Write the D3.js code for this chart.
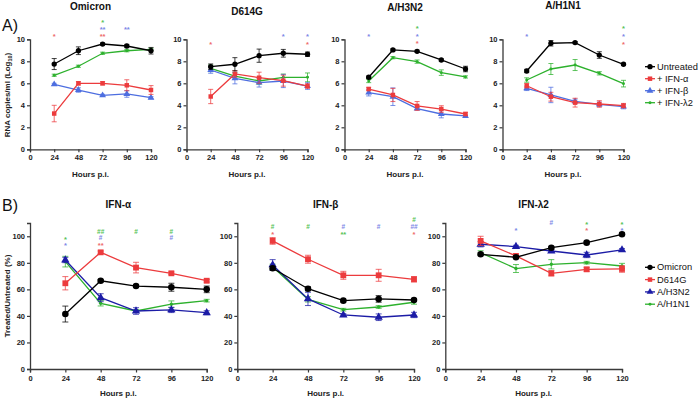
<!DOCTYPE html>
<html>
<head>
<meta charset="utf-8">
<script src="https://cdn.jsdelivr.net/npm/d3@7"></script>
<style>
body { margin: 0; background: #fff; }
svg { font-family: Arial, "Liberation Sans", sans-serif; }
</style>
</head>
<body>
<div id="chart-area"></div>
<script>
const hours = [24, 48, 72, 96, 120];
const hourTicks = [0, 24, 48, 72, 96, 120];
const rnaTicks = [0, 2, 4, 6, 8, 10];
const ratioTicks = [0, 20, 40, 60, 80, 100];

const treatments = ["Untreated", "+ IFN-\u03b1", "+ IFN-\u03b2", "+ IFN-\u03bb2"];
const viruses = ["Omicron", "D614G", "A/H3N2", "A/H1N1"];
const interferons = ["IFN-\u03b1", "IFN-\u03b2", "IFN-\u03bb2"];

// RNA copies/ml (log10), one row per treatment
const omicronRna = [
    [7.75, 8.96, 9.57, 9.39, 8.96],
    [3.25, 6.0, 6.0, 5.82, 5.39],
    [5.9, 5.39, 4.9, 5.03, 4.69],
    [6.73, 7.55, 8.73, 8.96, 9.09]
];
const omicronRnaErr = [
    [0.5, 0.35, 0.1, 0.15, 0.3],
    [0.75, 0.15, 0.15, 0.5, 0.4],
    [0.1, 0.2, 0.1, 0.3, 0.1],
    [0.1, 0.1, 0.1, 0.1, 0.1]
];
const d614gRna = [
    [7.51, 7.73, 8.51, 8.73, 8.64],
    [4.8, 6.85, 6.51, 6.24, 5.75],
    [7.21, 6.45, 6.06, 6.21, 5.75],
    [7.36, 6.66, 6.21, 6.54, 6.54]
];
const d614gRnaErr = [
    [0.25, 0.6, 0.6, 0.35, 0.2],
    [0.65, 0.3, 0.5, 0.5, 0.2],
    [0.3, 0.5, 0.4, 0.6, 0.3],
    [0.3, 0.3, 0.3, 0.3, 0.4]
];
const h3n2Rna = [
    [6.55, 9.03, 8.91, 8.12, 7.3],
    [5.48, 4.94, 3.94, 3.66, 3.21],
    [5.15, 4.78, 3.7, 3.21, 3.03],
    [6.21, 8.33, 7.97, 6.97, 6.58]
];
const h3n2RnaErr = [
    [0.1, 0.1, 0.1, 0.1, 0.25],
    [0.15, 0.6, 0.4, 0.3, 0.15],
    [0.3, 0.8, 0.1, 0.35, 0.1],
    [0.15, 0.1, 0.15, 0.25, 0.1]
];
const h1n1Rna = [
    [7.12, 9.64, 9.7, 8.57, 7.73],
    [5.78, 4.78, 4.24, 4.12, 3.97],
    [5.54, 4.94, 4.36, 4.09, 3.88],
    [6.3, 7.3, 7.66, 6.91, 5.97]
];
const h1n1RnaErr = [
    [0.15, 0.25, 0.1, 0.3, 0.1],
    [0.2, 0.4, 0.4, 0.3, 0.2],
    [0.2, 0.7, 0.2, 0.2, 0.2],
    [0.2, 0.5, 0.5, 0.15, 0.3]
];

// Treated/Untreated (%), one row per virus
const alphaRatio = [
    [41.4, 66.5, 62.5, 61.6, 60.0],
    [64.6, 87.9, 76.4, 72.1, 66.5],
    [82.1, 53.7, 43.7, 44.5, 42.4],
    [80.9, 49.5, 43.7, 48.8, 51.5]
];
const alphaRatioErr = [
    [6, 1, 1, 3, 2.5],
    [5, 1, 4, 1, 1],
    [2, 3, 2.5, 2, 1.5],
    [4, 2, 1, 2.5, 1]
];
const betaRatio = [
    [75.9, 60.5, 51.5, 52.8, 52.0],
    [96.5, 82.7, 70.6, 70.6, 67.6],
    [78.4, 52.8, 40.7, 39.0, 40.7],
    [77.0, 52.5, 44.7, 46.7, 50.3]
];
const betaRatioErr = [
    [1.5, 1.5, 1, 2.5, 1],
    [2.5, 3, 3, 4.5, 2],
    [4, 5, 1, 2.5, 2],
    [2, 2, 1, 1, 1.5]
];
const lambdaRatio = [
    [86.4, 84.2, 91.4, 95.2, 101.5],
    [96.5, 85.2, 72.1, 75.1, 75.4],
    [94.0, 92.2, 88.9, 85.9, 89.7],
    [87.6, 75.7, 78.9, 80.1, 77.6]
];
const lambdaRatioErr = [
    [1, 1, 1, 1, 1],
    [3.5, 1, 2, 1.5, 2.5],
    [2, 1, 1, 2, 1],
    [1.5, 3, 3.5, 1, 2]
];

// significance marks: [hour, row, text, series index]
const omicronMarks = [[24, 2, "*", 1], [72, 0, "*", 3], [72, 1, "**", 2], [72, 2, "**", 1], [96, 1, "**", 2]];
const d614gMarks = [[24, 2, "*", 1], [96, 1, "*", 2], [120, 1, "*", 2], [120, 2, "*", 1]];
const h3n2Marks = [[24, 1, "*", 2], [72, 0, "*", 3], [72, 1, "*", 2], [72, 2, "*", 1]];
const h1n1Marks = [[24, 1, "*", 2], [120, 0, "*", 3], [120, 1, "*", 2], [120, 2, "*", 1]];
const alphaMarks = [[24, 1, "*", 3], [24, 2, "*", 2], [48, 0, "##", 3], [48, 1, "#", 2], [48, 2, "**", 1],
    [72, 0, "#", 3], [96, 0, "#", 3], [96, 1, "#", 2]];
const betaMarks = [[24, 1, "#", 3], [24, 2, "*", 1], [48, 1, "#", 3], [72, 1, "#", 2], [72, 2, "**", 3],
    [96, 1, "#", 2], [120, 0, "#", 3], [120, 1, "##", 2], [120, 2, "*", 1]];
const lambdaMarks = [[48, 1, "*", 2], [72, 0, "#", 2], [96, 0, "*", 3], [96, 1, "*", 1], [120, 0, "*", 3], [120, 1, "*", 2]];

const topColors = ["#000000", "#ec3b3d", "#4d6ee0", "#2db12d"];
const bottomColors = ["#000000", "#ec3b3d", "#1c1ca6", "#2db12d"];
const markColors = ["#000000", "#ee6a6a", "#7b86e6", "#55c255"];
const symbolTypes = [d3.symbolCircle, d3.symbolSquare, d3.symbolTriangle, d3.symbolCircle];

const svg = d3.select('#chart-area')
    .append('svg')
    .attr('width', 700)
    .attr('height', 398);

function drawPanel(p) {
    const g = svg.append('g');

    const x = d3.scaleLinear()
        .domain([0, 120])
        .range([p.x0, p.x0 + p.w]);

    const y = d3.scaleLinear()
        .domain([0, p.yMax])
        .range([p.yBottom, p.yTop]);

    const xAxis = d3.axisBottom(x)
        .tickValues(hourTicks)
        .tickSizeOuter(0)
        .tickSize(p.tick)
        .tickPadding(p.pad);
    const gx = g.append('g')
        .attr('transform', `translate(0, ${p.yBottom})`)
        .call(xAxis);

    const yAxis = d3.axisLeft(y)
        .tickValues(p.yTicks)
        .tickSizeOuter(0)
        .tickSize(3)
        .tickPadding(2);
    const gy = g.append('g')
        .attr('transform', `translate(${p.x0}, 0)`)
        .call(yAxis);

    [gx, gy].forEach(a => {
        a.select('.domain').attr('stroke', '#3a3a3a').attr('stroke-width', 1.3);
        a.selectAll('.tick line').attr('stroke', '#3a3a3a').attr('stroke-width', 1.2);
        a.selectAll('.tick text')
            .attr('font-size', 7.5)
            .attr('font-weight', 'bold')
            .attr('font-family', 'Arial, "Liberation Sans", sans-serif')
            .attr('fill', '#222');
    });

    // series, drawn last-first so the first sits on top
    for (let s = p.means.length - 1; s >= 0; s--) {
        const color = p.colors[s];
        const pts = hours.map((h, i) => ({ h: h, v: p.means[s][i], e: p.errs[s][i] }));

        g.append('path')
            .datum(pts)
            .attr('fill', 'none')
            .attr('stroke', color)
            .attr('stroke-width', 1.3)
            .attr('d', d3.line().x(d => x(d.h)).y(d => y(d.v)));

        const eb = g.append('g')
            .attr('stroke', color)
            .attr('stroke-width', 1)
            .attr('stroke-opacity', 0.75);
        pts.forEach(d => {
            const cx = x(d.h);
            const y1 = y(d.v + d.e), y2 = y(d.v - d.e);
            eb.append('line').attr('x1', cx).attr('x2', cx).attr('y1', y1).attr('y2', y2);
            eb.append('line').attr('x1', cx - p.cap).attr('x2', cx + p.cap).attr('y1', y1).attr('y2', y1);
            eb.append('line').attr('x1', cx - p.cap).attr('x2', cx + p.cap).attr('y1', y2).attr('y2', y2);
        });

        g.selectAll(null)
            .data(pts)
            .enter()
            .append('path')
            .attr('transform', d => `translate(${x(d.h)}, ${y(d.v)})`)
            .attr('d', d3.symbol().type(symbolTypes[s]).size(p.sizes[s]))
            .attr('fill', color);
    }

    // significance marks
    g.selectAll(null)
        .data(p.marks)
        .enter()
        .append('text')
        .attr('x', d => x(d[0]))
        .attr('y', d => p.rows[d[1]] + (d[2][0] === '*' ? 2.2 : 0))
        .attr('text-anchor', 'middle')
        .attr('dominant-baseline', 'central')
        .attr('font-size', d => d[2][0] === '*' ? 7.5 : 6.5)
        .attr('font-weight', 'bold')
        .attr('fill', d => markColors[d[3]])
        .text(d => d[2]);

    g.append('text')
        .attr('x', p.x0 + p.w / 2)
        .attr('y', p.titleY)
        .attr('text-anchor', 'middle')
        .attr('font-size', 10)
        .attr('font-weight', 'bold')
        .attr('fill', '#111')
        .text(p.title);

    g.append('text')
        .attr('x', p.x0 + p.w / 2)
        .attr('y', p.xLabelY)
        .attr('text-anchor', 'middle')
        .attr('font-size', 8)
        .attr('font-weight', 'bold')
        .attr('fill', '#222')
        .text("Hours p.i.");
}

// row A
const topData = [omicronRna, d614gRna, h3n2Rna, h1n1Rna];
const topErr = [omicronRnaErr, d614gRnaErr, h3n2RnaErr, h1n1RnaErr];
const topMarks = [omicronMarks, d614gMarks, h3n2Marks, h1n1Marks];
const topX0 = [30, 186.5, 344.5, 502.5];
const topTitleY = [9.5, 15, 10.5, 9];
const topRows = [[20, 27, 34.3], [26.3, 34.5, 42.5], [26, 33.8, 41.7], [26.7, 34.3, 42.3]];

viruses.forEach((v, i) => {
    drawPanel({
        x0: topX0[i], w: 121, yTop: 39.3, yBottom: 149.3, yMax: 10, yTicks: rnaTicks,
        tick: 3, pad: 2.5, cap: 2.5,
        means: topData[i], errs: topErr[i], colors: topColors, sizes: [22, 20, 20, 7],
        marks: topMarks[i], rows: topRows[i],
        title: v, titleY: topTitleY[i], xLabelY: 177
    });
});

// row B
const bottomData = [alphaRatio, betaRatio, lambdaRatio];
const bottomErr = [alphaRatioErr, betaRatioErr, lambdaRatioErr];
const bottomMarks = [alphaMarks, betaMarks, lambdaMarks];
const bottomX0 = [30, 237.3, 445.3];
const bottomRows = [[231.7, 237.5, 243.3], [219.3, 226, 232.7], [222.7, 228.3]];

interferons.forEach((f, i) => {
    drawPanel({
        x0: bottomX0[i], w: 176.7, yTop: 223, yBottom: 369, yMax: 110, yTicks: ratioTicks,
        tick: 3.5, pad: 3, cap: 3,
        means: bottomData[i], errs: bottomErr[i], colors: bottomColors, sizes: [34, 34, 30, 9],
        marks: bottomMarks[i], rows: bottomRows[i],
        title: f, titleY: 208, xLabelY: 395.5
    });
});

// axis titles and panel letters
const yl1 = svg.append('text')
    .attr('transform', 'translate(9.5, 95) rotate(-90)')
    .attr('text-anchor', 'middle')
    .attr('font-size', 8)
    .attr('font-weight', 'bold')
    .attr('fill', '#222');
yl1.append('tspan').text("RNA copies/ml (Log");
yl1.append('tspan').attr('font-size', 5.5).attr('dy', 2).text("10");
yl1.append('tspan').attr('dy', -2).text(")");

svg.append('text')
    .attr('transform', 'translate(10, 296) rotate(-90)')
    .attr('text-anchor', 'middle')
    .attr('font-size', 8)
    .attr('font-weight', 'bold')
    .attr('fill', '#222')
    .text("Treated/Untreated (%)");

svg.append('text').attr('x', 2).attr('y', 31).attr('font-size', 16).attr('fill', '#111').text("A)");
svg.append('text').attr('x', 2).attr('y', 211).attr('font-size', 16).attr('fill', '#111').text("B)");

// legends
function drawLegend(labels, colors, sizes, lx, ly, step) {
    labels.forEach((t, i) => {
        const yy = ly + i * step;
        svg.append('line')
            .attr('x1', lx - 5).attr('x2', lx + 5)
            .attr('y1', yy).attr('y2', yy)
            .attr('stroke', colors[i]).attr('stroke-width', 1.3);
        svg.append('path')
            .attr('transform', `translate(${lx}, ${yy})`)
            .attr('d', d3.symbol().type(symbolTypes[i]).size(sizes[i]))
            .attr('fill', colors[i]);
        svg.append('text')
            .attr('x', lx + 7)
            .attr('y', yy)
            .attr('dominant-baseline', 'central')
            .attr('font-size', 9.3)
            .attr('fill', '#111')
            .text(t);
    });
}
drawLegend(treatments, topColors, [22, 20, 20, 7], 650, 66.7, 12);
drawLegend(viruses, bottomColors, [22, 20, 20, 7], 650, 267.3, 12.3);
</script>
</body>
</html>
